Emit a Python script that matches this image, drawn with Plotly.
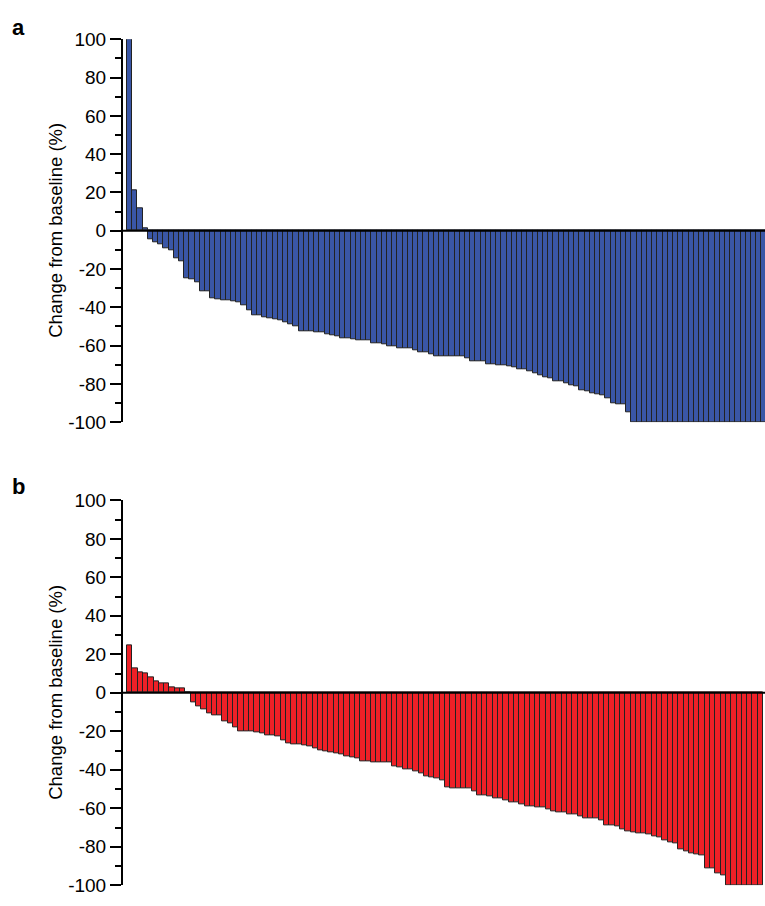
import plotly.graph_objects as go

# Panel a (blue) – change from baseline (%) per patient, sorted
values_a = [100, 21, 11.5, 1.2, -4.4, -6, -7, -9, -10, -14.4, -15.8, -24.6, -25.5, -27,
            -31.6, -31.6, -35.3, -35.8, -36.2, -36.5, -37, -37.5, -38.7, -41.6, -44, -44.3,
            -45, -45.7, -46.3, -46.9, -47.7, -48.6, -50, -52.3, -52.6, -52.6, -52.8, -53,
            -54, -54.8, -55.2, -56, -56, -56.5, -57, -57, -57, -58.6, -58.6, -59.4, -60.3,
            -60.3, -61.6, -61.6, -61.6, -62.5, -63.3, -63.3, -64.5, -65.4, -65.4, -65.7,
            -65.7, -65.7, -65.7, -66.7, -68.4, -68.4, -68.4, -70, -70, -70.2, -70.2, -70.8,
            -71.3, -72.5, -72.5, -73.5, -74.7, -75.6, -76.7, -77.2, -78.4, -78.4, -79.8,
            -80.6, -81.5, -83.2, -84, -84.9, -85.4, -86, -87.4, -90, -90.8, -90.8, -94.6] + [-100] * 26

# Panel b (red)
values_b = [24.7, 12.5, 10.5, 10.1, 7.9, 6.2, 4.9, 4.9, 2.9, 2.5, 2.4, 0, -5.1, -7.3, -8.4,
            -10.6, -11.5, -11.5, -14.7, -16, -18.2, -20, -20, -20, -20.8, -21, -22.3, -22.3,
            -22.8, -24.8, -26.3, -26.6, -27, -27.5, -28, -29.1, -29.7, -30.6, -30.9, -31.6,
            -32.1, -32.9, -33.4, -34, -35.5, -35.5, -36, -36, -36.3, -36.3, -38.2, -39, -39.9,
            -39.9, -40.7, -41.9, -43.6, -44.1, -44.4, -45.3, -49.2, -49.5, -49.5, -49.8, -49.8,
            -51.2, -53.2, -53.2, -53.7, -54.6, -55.1, -55.9, -56.8, -57.1, -57.9, -58.8, -59,
            -59.3, -59.6, -60.8, -61.7, -62.2, -62.2, -63, -63.3, -64.2, -65.2, -65.2, -65.5,
            -66.4, -68.9, -68.9, -69.4, -71.1, -71.8, -72.3, -72.8, -73.1, -73.6, -74.8, -75.2,
            -76.5, -77.9, -78.5, -81.1, -82.4, -83.3, -83.8, -84.6, -91, -91.4, -93.9, -95.1] + [-100] * 7

tick_vals = [-100, -80, -60, -40, -20, 0, 20, 40, 60, 80, 100]
tick_text = [str(v) for v in tick_vals]
panel_labels = ["a", "b"]
y_title = "Change from baseline (%)"

W, H = 765, 906
ML = 123
FONT = "Liberation Sans, Arial, sans-serif"

x_a = list(range(1, len(values_a) + 1))
x_b = list(range(1, len(values_b) + 1))

fig = go.Figure()
fig.add_trace(go.Bar(x=x_a, y=values_a, width=1.0, marker=dict(color="#3A56A6", line=dict(color="#222222", width=1)),
                     xaxis="x", yaxis="y", showlegend=False))
fig.add_trace(go.Bar(x=x_b, y=values_b, width=1.0, marker=dict(color="#EE2027", line=dict(color="#222222", width=1)),
                     xaxis="x2", yaxis="y2", showlegend=False))

def ydom(top_px, bot_px):
    return [1 - bot_px / H, 1 - top_px / H]

yaxis_common = dict(range=[-100, 100], tickmode="array", tickvals=tick_vals, ticktext=tick_text,
                    ticks="outside", ticklen=11, tickwidth=2, tickcolor="black",
                    showline=True, linecolor="black", linewidth=2, showgrid=False, zeroline=False,
                    tickfont=dict(family=FONT, size=19, color="black"),
                    minor=dict(dtick=10, tick0=0, ticks="outside", ticklen=6, tickwidth=2, tickcolor="black", showgrid=False))

xaxis_common = dict(showline=False, showticklabels=False, ticks="", showgrid=False, zeroline=False, domain=[0, 1])

plot_w = W - ML
pitch_a = 5.2
pitch_b = 5.3
gap_px = 4
xa0 = 0.5 - gap_px / pitch_a
xb0 = 0.5 - gap_px / pitch_b

fig.update_layout(
    width=W, height=H,
    margin=dict(l=ML, r=0, t=0, b=0),
    paper_bgcolor="white", plot_bgcolor="white",
    bargap=0,
    xaxis=dict(**xaxis_common, anchor="y", range=[xa0, xa0 + plot_w / pitch_a]),
    yaxis=dict(**yaxis_common, domain=ydom(30, 422), anchor="x"),
    xaxis2=dict(**xaxis_common, anchor="y2", range=[xb0, xb0 + plot_w / pitch_b]),
    yaxis2=dict(**yaxis_common, domain=ydom(502, 896), anchor="x2"),
    shapes=[
        dict(type="line", xref="x domain", yref="y", x0=0, x1=1, y0=0, y1=0, line=dict(color="black", width=2), layer="above"),
        dict(type="line", xref="x2 domain", yref="y2", x0=0, x1=1, y0=0, y1=0, line=dict(color="black", width=2), layer="above"),
    ],
)

annotations = []
for lbl, top_px, bot_px in [(panel_labels[0], 30, 422), (panel_labels[1], 502, 896)]:
    annotations.append(dict(text=y_title, textangle=-90, xref="paper", yref="paper",
                            x=(56 - ML) / plot_w, y=1 - ((top_px + bot_px) / 2) / H,
                            xanchor="center", yanchor="middle", showarrow=False,
                            font=dict(family=FONT, size=18.5, color="black")))
annotations.append(dict(text="<b>" + panel_labels[0] + "</b>", xref="paper", yref="paper", x=(18 - ML) / plot_w, y=1 - 18 / H,
                        xanchor="center", yanchor="middle", showarrow=False,
                        font=dict(family=FONT, size=22, color="black")))
annotations.append(dict(text="<b>" + panel_labels[1] + "</b>", xref="paper", yref="paper", x=(18 - ML) / plot_w, y=1 - 488 / H,
                        xanchor="center", yanchor="middle", showarrow=False,
                        font=dict(family=FONT, size=22, color="black")))
fig.update_layout(annotations=annotations)

fig.write_html("out.html", config={"displayModeBar": False},
               post_script="document.body.style.margin='0';document.body.style.overflow='hidden';")
